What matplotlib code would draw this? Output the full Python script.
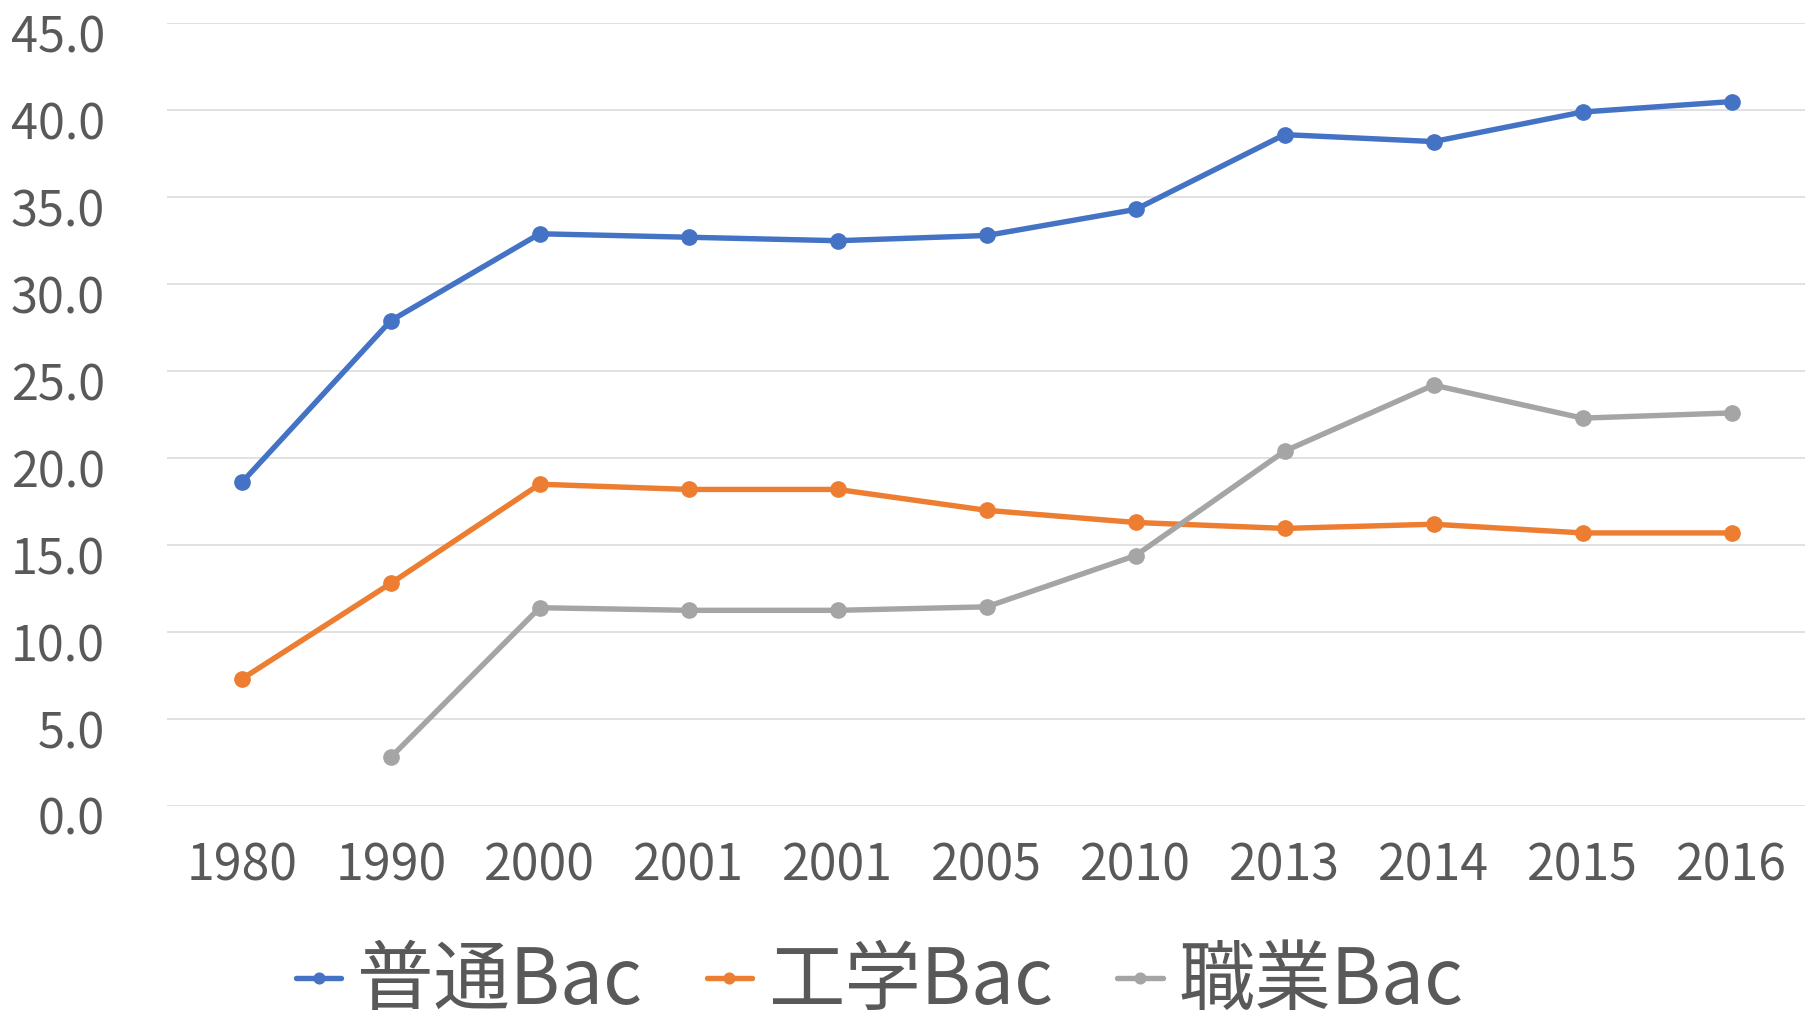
import matplotlib
matplotlib.use("Agg")
import matplotlib.pyplot as plt
import matplotlib.transforms as mtransforms

plt.rcParams['font.family'] = ['Noto Sans CJK JP', 'DejaVu Sans']

years = ["1980", "1990", "2000", "2001", "2001", "2005", "2010", "2013", "2014", "2015", "2016"]
general = [18.6, 27.9, 32.9, 32.7, 32.5, 32.8, 34.3, 38.6, 38.2, 39.9, 40.5]
technical = [7.3, 12.8, 18.5, 18.2, 18.2, 17.0, 16.3, 15.96, 16.2, 15.7, 15.7]
vocational = [None, 2.8, 11.4, 11.25, 11.25, 11.45, 14.4, 20.4, 24.2, 22.3, 22.6]
series_names = ["普通Bac", "工学Bac", "職業Bac"]
colors = ["#4472C4", "#ED7D31", "#A5A5A5"]
yticks = [0, 5, 10, 15, 20, 25, 30, 35, 40, 45]

text_color = "#595959"

fig = plt.figure(figsize=(18.06, 10.15), dpi=100)
ax = fig.add_axes([167.3 / 1806, 1 - 806 / 1015, 1 - 167.3 / 1806, (806 - 23.3) / 1015])

x = list(range(len(years)))
for vals, name, c in zip([general, technical, vocational], series_names, colors):
    xs = [xi for xi, v in zip(x, vals) if v is not None]
    ys = [v for v in vals if v is not None]
    ax.plot(xs, ys, color=c, lw=3.9, marker='o', markersize=11, label=name,
            solid_capstyle='round', zorder=3)

ax.set_xlim(-0.5, len(years) - 0.5)
ax.set_ylim(0, 45)
ax.set_yticks(yticks)
ax.set_yticklabels([f"{v:.1f}" for v in yticks])
ax.set_xticks(x)
ax.set_xticklabels(years)
ax.grid(axis='y', color='#D9D9D9', lw=1.1)
ax.set_axisbelow(True)
for s in ax.spines.values():
    s.set_visible(False)
ax.tick_params(axis='both', length=0, colors=text_color)
ax.tick_params(axis='x', labelsize=36, pad=25)
ax.tick_params(axis='y', labelsize=35, pad=45)

offset = mtransforms.ScaledTranslation(0, -7 / 72, fig.dpi_scale_trans)
for lbl in ax.get_yticklabels():
    lbl.set_transform(lbl.get_transform() + offset)

leg = fig.legend(loc='center', bbox_to_anchor=(0.487, 0.032), ncol=3, frameon=False,
                 fontsize=55, handlelength=0.6, handletextpad=0.2, columnspacing=0.85,
                 markerscale=0.7)
for t in leg.get_texts():
    t.set_color(text_color)

fig.savefig("out.png", dpi=100)
